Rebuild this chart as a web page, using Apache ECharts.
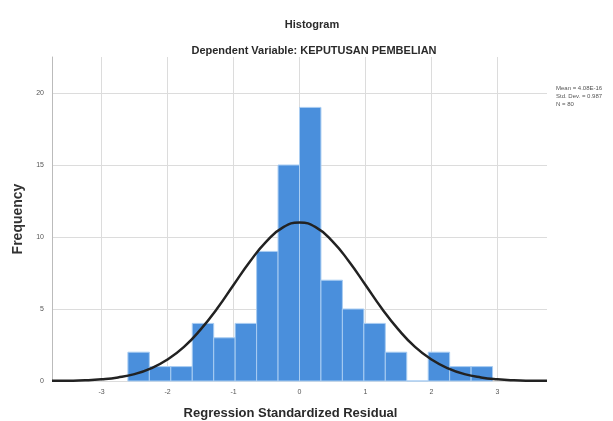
<!DOCTYPE html>
<html><head><meta charset="utf-8">
<script src="https://cdn.jsdelivr.net/npm/echarts@6/dist/echarts.min.js"></script>
<style>html,body{margin:0;padding:0;background:#fff}#c{width:613px;height:421px}</style>
</head><body><div id="c"></div>
<script>
// Bin lower/upper edges (Regression Standardized Residual)
const binLo = [-2.6, -2.275, -1.95, -1.625, -1.3, -0.975, -0.65, -0.325, 0, 0.325, 0.65, 0.975, 1.3, 1.625, 1.95, 2.275, 2.6];
const binHi = [-2.275, -1.95, -1.625, -1.3, -0.975, -0.65, -0.325, 0, 0.325, 0.65, 0.975, 1.3, 1.625, 1.95, 2.275, 2.6, 2.925];
const counts = [2, 1, 1, 4, 3, 4, 9, 15, 19, 7, 5, 4, 2, 0, 2, 1, 1];
// Normal curve points
const curveX = [-3.75, -3.5, -3.25, -3, -2.75, -2.5, -2.25, -2, -1.75, -1.5, -1.25, -1, -0.75, -0.5, -0.25, 0, 0.25, 0.5, 0.75, 1, 1.25, 1.5, 1.75, 2, 2.25, 2.5, 2.75, 3, 3.25, 3.5, 3.75];
const curveY = [0.01, 0.02, 0.05, 0.12, 0.25, 0.48, 0.88, 1.49, 2.37, 3.57, 5.02, 6.67, 8.3, 9.7, 10.67, 11.0, 10.67, 9.7, 8.3, 6.67, 5.02, 3.57, 2.37, 1.49, 0.88, 0.48, 0.25, 0.12, 0.05, 0.02, 0.01];
const xTicks = [-3, -2, -1, 0, 1, 2, 3];
const yTicks = [0, 5, 10, 15, 20];
const legendLines = ['Mean = 4.08E-16', 'Std. Dev. = 0.987', 'N = 80'];

const chart = echarts.init(document.getElementById('c'));
const barData = counts.map((c, i) => [binLo[i], binHi[i], c]);
chart.setOption({
  animation: false,
  title: [
    {text: 'Histogram', left: 307, top: 14, textAlign: 'center',
     textStyle: {fontFamily: 'Liberation Sans', fontSize: 11, fontWeight: 'bold', color: '#2a2a2a'}},
    {text: 'Dependent Variable: KEPUTUSAN PEMBELIAN', left: 309, top: 40, textAlign: 'center',
     textStyle: {fontFamily: 'Liberation Sans', fontSize: 11, fontWeight: 'bold', color: '#2a2a2a'}},
    {text: legendLines.join('\n'), left: 551, top: 79,
     textStyle: {fontFamily: 'Liberation Sans', fontSize: 6, lineHeight: 8, fontWeight: 'normal', color: '#555'}}
  ],
  grid: {left: 52, right: 66, top: 57, bottom: 40, containLabel: false, outerBoundsMode: 'none'},
  xAxis: {
    type: 'value', min: -3.75, max: 3.75,
    name: 'Regression Standardized Residual', nameLocation: 'middle', nameGap: 26,
    nameTextStyle: {fontFamily: 'Liberation Sans', fontSize: 13, fontWeight: 'bold', color: '#2a2a2a', padding: [0, 18, 0, 0]},
    axisLine: {show: false}, axisTick: {show: false, customValues: xTicks},
    axisLabel: {customValues: xTicks, fontSize: 7, color: '#555', margin: 8, fontFamily: 'Liberation Sans'},
    splitLine: {show: true, lineStyle: {color: '#dcdcdc', width: 1}}
  },
  yAxis: {
    type: 'value', min: 0, max: 22.5,
    name: 'Frequency', nameLocation: 'middle', nameGap: 27,
    nameTextStyle: {fontFamily: 'Liberation Sans', fontSize: 14, fontWeight: 'bold', color: '#333'},
    axisLine: {show: true, onZero: false, lineStyle: {color: '#bbb'}}, axisTick: {show: false, customValues: yTicks},
    axisLabel: {customValues: yTicks, fontSize: 7, color: '#555', margin: 8, fontFamily: 'Liberation Sans'},
    splitLine: {show: true, lineStyle: {color: '#dcdcdc', width: 1}}
  },
  series: [
    {
      type: 'custom',
      data: barData,
      encode: {x: [0, 1], y: 2},
      renderItem: function (params, api) {
        const lo = api.coord([api.value(0), 0]);
        const hi = api.coord([api.value(1), api.value(2)]);
        return {
          type: 'rect',
          shape: {x: lo[0], y: hi[1], width: hi[0] - lo[0], height: lo[1] - hi[1]},
          style: {fill: '#4a8fdc', stroke: '#a9cdf2', lineWidth: 1}
        };
      },
      z: 2
    },
    {
      type: 'line', smooth: true, showSymbol: false,
      data: curveX.map((x, i) => [x, curveY[i]]),
      lineStyle: {color: '#222', width: 2.5}, z: 3
    }
  ]
});
</script></body></html>
